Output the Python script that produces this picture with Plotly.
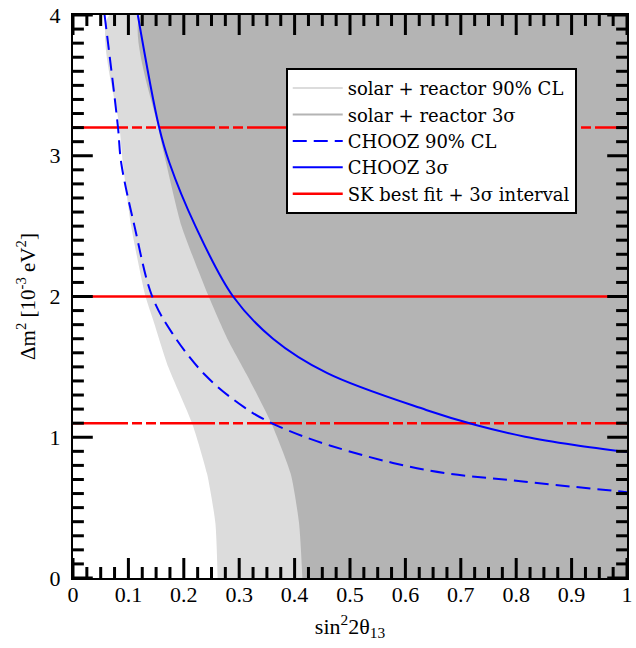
import plotly.graph_objects as go

# ---- data ----
# solar + reactor 90% CL boundary (left edge of light gray region)
sr90_dm2 = [0.0, 0.39, 0.74, 1.1, 1.5, 1.83, 2.0, 2.5, 2.95, 3.21, 4.0]
sr90_s2t = [0.261, 0.257, 0.242, 0.215, 0.172, 0.145, 0.131, 0.105, 0.090, 0.084, 0.066]

# solar + reactor 3 sigma boundary (left edge of dark gray region)
sr3_dm2 = [0.0, 0.39, 0.74, 1.1, 1.45, 1.69, 2.0, 2.5, 2.95, 3.2, 4.0]
sr3_s2t = [0.414, 0.408, 0.393, 0.358, 0.313, 0.280, 0.245, 0.196, 0.168, 0.154, 0.123]

# CHOOZ 90% CL (dashed)
chooz90_s2t = [0.057, 0.081, 0.087, 0.111, 0.143, 0.179, 0.239, 0.310, 0.364, 0.465, 0.6375, 0.816, 1.0]
chooz90_dm2 = [4.0, 3.21, 2.95, 2.5, 2.0, 1.74, 1.44, 1.21, 1.09, 0.94, 0.767, 0.684, 0.61]

# CHOOZ 3 sigma (solid)
chooz3_s2t = [0.117, 0.155, 0.174, 0.221, 0.289, 0.361, 0.459, 0.6375, 0.727, 0.816, 0.905, 1.0]
chooz3_dm2 = [4.0, 3.21, 2.95, 2.5, 2.0, 1.70, 1.455, 1.194, 1.087, 1.004, 0.945, 0.895]

# SK best fit and 3 sigma interval
sk_best = 2.0
sk_low = 1.1
sk_high = 3.2
x_span = [0.0, 1.0]

# axis ranges and tick positions
x_range = [0.0, 1.0]
y_range = [0.0, 4.0]
x_major = [0, 0.1, 0.2, 0.3, 0.4, 0.5, 0.6, 0.7, 0.8, 0.9, 1.0]
x_ticklabels = ["0", "0.1", "0.2", "0.3", "0.4", "0.5", "0.6", "0.7", "0.8", "0.9", "1"]
x_minor = [round(i * 0.025, 4) for i in range(41) if i % 4 != 0]
y_major = [0, 1, 2, 3, 4]
y_ticklabels = ["0", "1", "2", "3", "4"]
y_minor = [round(i * 0.1, 4) for i in range(41) if i % 10 != 0]

LIGHT = "#dcdcdc"
DARK = "#b4b4b4"
BLUE = "#0000ff"
RED = "#ff0000"
FONT = "Liberation Serif"
LEGFONT = "DejaVu Serif"

W, H = 636, 648
M_L, M_R, M_T, M_B = 73, 3, 15, 70
PLOT_W = W - M_L - M_R
PLOT_H = H - M_T - M_B
MAJOR_LEN = 20   # px
MINOR_LEN = 11   # px
x_per_px = (x_range[1] - x_range[0]) / PLOT_W
y_per_px = (y_range[1] - y_range[0]) / PLOT_H

fig = go.Figure()

# filled regions
fig.add_trace(go.Scatter(
    x=sr90_s2t + [1.0, 1.0], y=sr90_dm2 + [4.0, 0.0],
    fill="toself", fillcolor=LIGHT, line=dict(width=0, shape="spline", smoothing=0.6), mode="lines",
    showlegend=False, hoverinfo="skip"))
fig.add_trace(go.Scatter(
    x=sr3_s2t + [1.0, 1.0], y=sr3_dm2 + [4.0, 0.0],
    fill="toself", fillcolor=DARK, line=dict(width=0, shape="spline", smoothing=0.6), mode="lines",
    showlegend=False, hoverinfo="skip"))

# legend entries for the regions
fig.add_trace(go.Scatter(x=[None], y=[None], mode="lines",
                         line=dict(color=LIGHT, width=2),
                         name="solar + reactor 90% CL", legendrank=1))
fig.add_trace(go.Scatter(x=[None], y=[None], mode="lines",
                         line=dict(color=DARK, width=2),
                         name="solar + reactor 3σ", legendrank=2))

# SK lines
red_dash = "55px,4px,10px,4px,10px,4px"
fig.add_trace(go.Scatter(x=x_span, y=[sk_low, sk_low], mode="lines",
                         line=dict(color=RED, width=2.5, dash=red_dash),
                         showlegend=False, hoverinfo="skip"))
fig.add_trace(go.Scatter(x=x_span, y=[sk_high, sk_high], mode="lines",
                         line=dict(color=RED, width=2.5, dash=red_dash),
                         showlegend=False, hoverinfo="skip"))
fig.add_trace(go.Scatter(x=x_span, y=[sk_best, sk_best], mode="lines",
                         line=dict(color=RED, width=2.5),
                         name="SK best fit + 3σ interval", legendrank=5))

# CHOOZ
fig.add_trace(go.Scatter(x=chooz90_s2t, y=chooz90_dm2, mode="lines",
                         line=dict(color=BLUE, width=2, dash="14px,7px", shape="spline"),
                         name="CHOOZ 90% CL", legendrank=3))
fig.add_trace(go.Scatter(x=chooz3_s2t, y=chooz3_dm2, mode="lines",
                         line=dict(color=BLUE, width=2, shape="spline"),
                         name="CHOOZ 3σ", legendrank=4))


# inside tick marks on all four sides, drawn as short line segments
def tick_segments():
    xs, ys = [], []
    for ticks, length in ((x_major, MAJOR_LEN), (x_minor, MINOR_LEN)):
        d = length * y_per_px
        for t in ticks:
            xs += [t, t, None, t, t, None]
            ys += [y_range[0], y_range[0] + d, None, y_range[1], y_range[1] - d, None]
    for ticks, length in ((y_major, MAJOR_LEN), (y_minor, MINOR_LEN)):
        d = length * x_per_px
        for t in ticks:
            xs += [x_range[0], x_range[0] + d, None, x_range[1], x_range[1] - d, None]
            ys += [t, t, None, t, t, None]
    return xs, ys


tx, ty = tick_segments()
fig.add_trace(go.Scatter(x=tx, y=ty, mode="lines", line=dict(color="black", width=3),
                         showlegend=False, hoverinfo="skip", connectgaps=False))

fig.update_xaxes(
    range=x_range, tickmode="array", tickvals=x_major, ticktext=x_ticklabels,
    showline=True, linecolor="black", linewidth=2, mirror=True,
    ticks="", showgrid=False, zeroline=False,
    tickfont=dict(family=FONT, size=22, color="black"),
    ticklabelstandoff=-4, ticklabeloverflow="allow",
    title=dict(text="sin<sup>2</sup>2θ<sub>13</sub>", font=dict(family=FONT, size=22, color="black"), standoff=12),
)
fig.update_yaxes(
    range=y_range, tickmode="array", tickvals=y_major, ticktext=y_ticklabels,
    showline=True, linecolor="black", linewidth=2, mirror=True,
    ticks="", showgrid=False, zeroline=False,
    tickfont=dict(family=FONT, size=22, color="black"),
    ticklabelstandoff=6,
    title=dict(text="Δm<sup>2</sup> [10<sup>-3</sup> eV<sup>2</sup>]", font=dict(family=FONT, size=21, color="black"), standoff=8),
)

fig.update_layout(
    width=W, height=H,
    margin=dict(l=M_L, r=M_R, t=M_T, b=M_B),
    plot_bgcolor="white", paper_bgcolor="white",
    showlegend=True,
    legend=dict(
        x=0.384, y=0.906, xanchor="left", yanchor="top",
        bgcolor="white", bordercolor="black", borderwidth=2,
        font=dict(family=LEGFONT, size=18, color="black"),
        tracegroupgap=0, itemwidth=50,
    ),
)

fig.write_html("out.html")
